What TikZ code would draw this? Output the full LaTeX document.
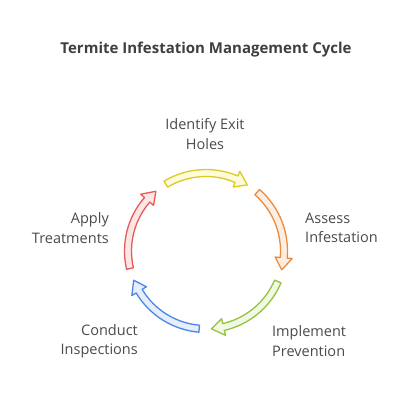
\documentclass[tikz,border=0pt]{standalone}
\usepackage{fontspec}
\setmainfont{Open Sans}
\definecolor{ystroke}{HTML}{DCCB25}\definecolor{yfill}{HTML}{FDFBD9}
\definecolor{ostroke}{HTML}{EE8A3C}\definecolor{ofill}{HTML}{FDEEE3}
\definecolor{gstroke}{HTML}{92C43F}\definecolor{gfill}{HTML}{F1F8E4}
\definecolor{bstroke}{HTML}{4C86E8}\definecolor{bfill}{HTML}{E6EEFC}
\definecolor{rstroke}{HTML}{E85A5A}\definecolor{rfill}{HTML}{FCE6E6}
\definecolor{txt}{HTML}{4A4A4A}
\newcommand\cyclearrow[3]{%
  \pgfmathsetmacro\hb{#2+9}%
  \draw[#3] (#1:81.5) arc[start angle=#1, end angle=\hb, radius=81.5]
    -- (\hb:86.5) -- (#2:78) -- (\hb:69.5) -- (\hb:74.5)
    arc[start angle=\hb, end angle=#1, radius=74.5] -- cycle;}
\begin{document}
\begin{tikzpicture}[x=1pt,y=1pt,
  arr/.style={line width=1.3pt, line join=round},
  lbl/.style={text=txt, font=\fontsize{14.5}{19.5}\selectfont, inner sep=0pt}]
\useasboundingbox (0,0) rectangle (412,402);
\node[text=txt!85!black, font=\bfseries\fontsize{15}{18}\selectfont] (title) at (206,352) {Termite Infestation Management Cycle};
\begin{scope}[shift={(206,151)}]
\cyclearrow{121}{58}{arr, draw=ystroke, fill=yfill}
\cyclearrow{49}{-14}{arr, draw=ostroke, fill=ofill}
\cyclearrow{-23}{-86}{arr, draw=gstroke, fill=gfill}
\cyclearrow{-95}{-158}{arr, draw=bstroke, fill=bfill}
\cyclearrow{-167}{-230}{arr, draw=rstroke, fill=rfill}
\end{scope}
\node[lbl, align=center] (identify) at (205,268) {Identify Exit\\Holes};
\node[lbl, align=left, anchor=west] (assess) at (305,174) {Assess\\Infestation};
\node[lbl, align=left, anchor=west] (implement) at (272,61) {Implement\\Prevention};
\node[lbl, align=right, anchor=east] (conduct) at (138,61) {Conduct\\Inspections};
\node[lbl, align=right, anchor=east] (apply) at (109,174) {Apply\\Treatments};
\end{tikzpicture}
\end{document}
